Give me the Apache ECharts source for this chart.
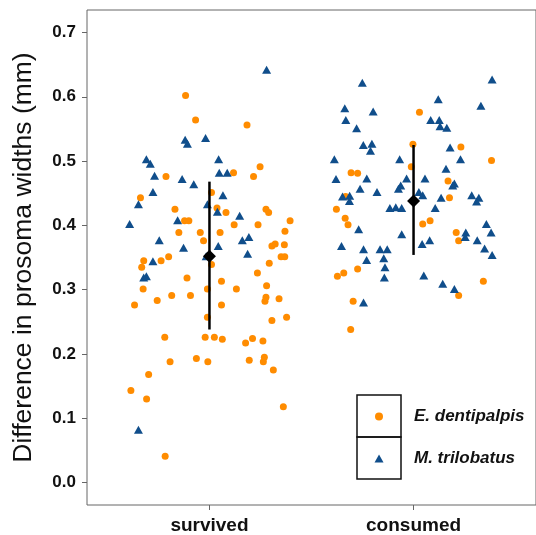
<!DOCTYPE html>
<html>
<head>
<meta charset="utf-8">
<script src="https://cdn.jsdelivr.net/npm/echarts@6/dist/echarts.min.js"></script>
<style>
  html, body { margin: 0; padding: 0; background: #fff; }
  #chart { width: 536px; height: 535px; }
</style>
</head>
<body>
<div id="chart"></div>
<script>
const categories = ['survived', 'consumed']
const yTicks = [0, 0.1, 0.2, 0.3, 0.4, 0.5, 0.6, 0.7]

// jittered x positions (axis units, category centres at 1 and 2) and values
const dentSurvivedX = [0.883, 0.932, 1.184, 1.118, 1.248, 1.216, 0.787, 0.662, 1.010, 0.831, 1.037, 1.081, 1.277, 1.290,
  0.878, 0.899, 1.395, 1.121, 1.238, 0.850, 0.955, 1.052, 1.370, 0.971, 1.306, 1.322, 1.367, 0.800, 0.763, 0.678,
  1.351, 1.369, 0.668, 1.010, 1.293, 0.890, 1.235, 1.059, 0.675, 1.132, 1.280, 0.990, 0.815, 0.907, 0.744, 0.633,
  1.059, 1.277, 1.272, 1.341, 0.990, 1.306, 1.378, 0.781, 0.979, 1.024, 1.063, 1.177, 1.211, 1.262, 0.807, 0.936,
  0.992, 1.195, 1.269, 1.264, 1.313, 0.702, 0.615, 0.692, 1.362, 0.783]
const dentSurvivedY = [0.602, 0.564, 0.556, 0.482, 0.491, 0.476, 0.476, 0.443, 0.451, 0.425, 0.427, 0.420, 0.425, 0.420,
  0.407, 0.407, 0.407, 0.401, 0.401, 0.389, 0.389, 0.389, 0.391, 0.376, 0.368, 0.371, 0.370, 0.351, 0.345, 0.345,
  0.351, 0.351, 0.335, 0.339, 0.341, 0.318, 0.326, 0.313, 0.301, 0.301, 0.306, 0.301, 0.291, 0.291, 0.283, 0.276,
  0.276, 0.288, 0.282, 0.286, 0.257, 0.252, 0.257, 0.226, 0.226, 0.226, 0.223, 0.217, 0.224, 0.220, 0.188, 0.193,
  0.188, 0.190, 0.195, 0.188, 0.175, 0.168, 0.143, 0.130, 0.118, 0.041]

const triSurvivedX = [1.280, 0.881, 0.892, 0.981, 0.691, 0.710, 1.045, 1.048, 1.087, 0.731, 0.866, 0.923, 0.723, 1.066,
  0.652, 0.990, 1.039, 1.148, 0.609, 0.844, 0.754, 1.161, 1.193, 0.873, 1.043, 0.984, 1.187, 0.723, 0.678, 0.691, 0.652]
const triSurvivedY = [0.642, 0.533, 0.527, 0.536, 0.503, 0.496, 0.503, 0.482, 0.482, 0.477, 0.472, 0.464, 0.452, 0.447,
  0.433, 0.433, 0.421, 0.415, 0.402, 0.408, 0.377, 0.377, 0.382, 0.365, 0.368, 0.352, 0.356, 0.344, 0.319, 0.321, 0.082]

const dentConsumedX = [2.029, 1.997, 2.232, 2.382, 1.989, 1.694, 1.726, 2.169, 1.667, 2.176, 1.622, 1.665, 1.679, 2.045,
  2.081, 2.209, 2.221, 1.726, 1.627, 1.658, 2.221, 2.342, 1.704, 1.692]
const dentConsumedY = [0.576, 0.526, 0.522, 0.501, 0.491, 0.482, 0.481, 0.469, 0.445, 0.443, 0.425, 0.411, 0.401, 0.402,
  0.407, 0.389, 0.376, 0.332, 0.321, 0.326, 0.291, 0.313, 0.282, 0.238]

const triConsumedX = [1.749, 2.385, 2.121, 2.330, 1.663, 1.802, 1.668, 2.084, 2.126, 2.130, 2.163, 1.721, 1.754, 1.796,
  1.789, 2.179, 1.612, 1.932, 2.230, 2.159, 1.620, 1.771, 1.966, 2.056, 2.200, 2.192, 1.937, 1.926, 1.738, 1.821,
  2.026, 2.045, 1.652, 1.687, 2.285, 2.320, 2.135, 1.686, 2.309, 1.884, 1.913, 1.942, 2.106, 1.731, 2.357, 2.380,
  1.942, 2.256, 2.253, 2.312, 1.647, 1.755, 1.836, 1.871, 2.042, 2.079, 2.348, 2.385, 1.770, 1.854, 1.860, 1.857,
  2.050, 2.143, 2.200, 1.755]
const triConsumedY = [0.622, 0.627, 0.596, 0.586, 0.582, 0.577, 0.564, 0.564, 0.564, 0.554, 0.552, 0.551, 0.525, 0.527,
  0.516, 0.521, 0.503, 0.503, 0.503, 0.488, 0.472, 0.473, 0.473, 0.473, 0.465, 0.462, 0.462, 0.457, 0.457, 0.452,
  0.452, 0.447, 0.445, 0.446, 0.447, 0.443, 0.443, 0.438, 0.437, 0.427, 0.428, 0.427, 0.427, 0.394, 0.402, 0.389,
  0.386, 0.389, 0.382, 0.377, 0.368, 0.363, 0.363, 0.363, 0.371, 0.377, 0.364, 0.354, 0.346, 0.349, 0.335, 0.319,
  0.322, 0.309, 0.301, 0.280]

const means = [0.352, 0.438]
const lower = [0.238, 0.354]
const upper = [0.468, 0.525]

const ORANGE = '#FF8C00'
const BLUE = '#104E8B'
const FONT = '"Liberation Sans", Arial, sans-serif'

const zip = (xs, ys) => xs.map((x, i) => [x, ys[i]])

const option = {
  animation: false,
  grid: {
    left: 87, right: -6, top: 10, bottom: 29,
    show: true, borderColor: '#666', borderWidth: 1
  },
  legend: {
    orient: 'vertical',
    left: 374.5,
    top: 408,
    padding: 0,
    itemWidth: 9,
    itemHeight: 8,
    itemGap: 25,
    selectedMode: false,
    data: [
      { name: 'E. dentipalpis', icon: 'circle' },
      { name: 'M. trilobatus', icon: 'triangle' }
    ],
    textStyle: {
      fontFamily: FONT, fontSize: 17, fontWeight: 'bold', fontStyle: 'italic',
      color: '#111', padding: [0, 0, 0, 25.5]
    }
  },
  graphic: [
    { type: 'rect', shape: { x: 357, y: 395, width: 44, height: 42 }, style: { fill: 'none', stroke: '#111', lineWidth: 1.5 } },
    { type: 'rect', shape: { x: 357, y: 437, width: 44, height: 42 }, style: { fill: 'none', stroke: '#111', lineWidth: 1.5 } }
  ],
  xAxis: {
    type: 'value',
    min: 0.4,
    max: 2.6,
    splitLine: { show: false },
    axisLine: { show: false, onZero: false },
    axisTick: { show: true, length: 5, customValues: [1, 2], lineStyle: { color: '#666' } },
    axisLabel: {
      customValues: [1, 2],
      formatter: v => categories[Math.round(v) - 1],
      fontFamily: FONT, fontSize: 19, fontWeight: 'bold', color: '#111', margin: 11
    }
  },
  yAxis: {
    type: 'value',
    min: -0.035,
    max: 0.735,
    name: 'Difference in prosoma widths (mm)',
    nameLocation: 'middle',
    nameGap: 50,
    nameTextStyle: { fontFamily: FONT, fontSize: 26.5, color: '#111' },
    splitLine: { show: false },
    axisLine: { show: false, onZero: false },
    axisTick: { show: true, length: 5, customValues: yTicks, lineStyle: { color: '#666' } },
    axisLabel: {
      customValues: yTicks,
      formatter: v => v.toFixed(1),
      fontFamily: FONT, fontSize: 17, fontWeight: 'bold', color: '#111', margin: 11
    }
  },
  series: [
    {
      name: 'E. dentipalpis',
      type: 'scatter',
      symbol: 'circle',
      symbolSize: 7,
      itemStyle: { color: ORANGE, opacity: 1 },
      data: zip(dentSurvivedX, dentSurvivedY).concat(zip(dentConsumedX, dentConsumedY))
    },
    {
      name: 'M. trilobatus',
      type: 'scatter',
      symbol: 'triangle',
      symbolSize: [9, 8],
      itemStyle: { color: BLUE, opacity: 1 },
      data: zip(triSurvivedX, triSurvivedY).concat(zip(triConsumedX, triConsumedY))
    },
    {
      type: 'custom',
      silent: true,
      z: 5,
      data: means.map((m, i) => [i + 1, lower[i], upper[i]]),
      encode: { x: 0, y: [1, 2] },
      renderItem: (params, api) => {
        const p1 = api.coord([api.value(0), api.value(1)])
        const p2 = api.coord([api.value(0), api.value(2)])
        return {
          type: 'line',
          shape: { x1: p1[0], y1: p1[1], x2: p2[0], y2: p2[1] },
          style: { stroke: '#000', lineWidth: 2.5 }
        }
      }
    },
    {
      type: 'scatter',
      silent: true,
      z: 6,
      symbol: 'diamond',
      symbolSize: 13,
      itemStyle: { color: '#000', opacity: 1 },
      data: means.map((m, i) => [i + 1, m])
    }
  ]
}

const chart = echarts.init(document.getElementById('chart'))
chart.setOption(option)
</script>
</body>
</html>
